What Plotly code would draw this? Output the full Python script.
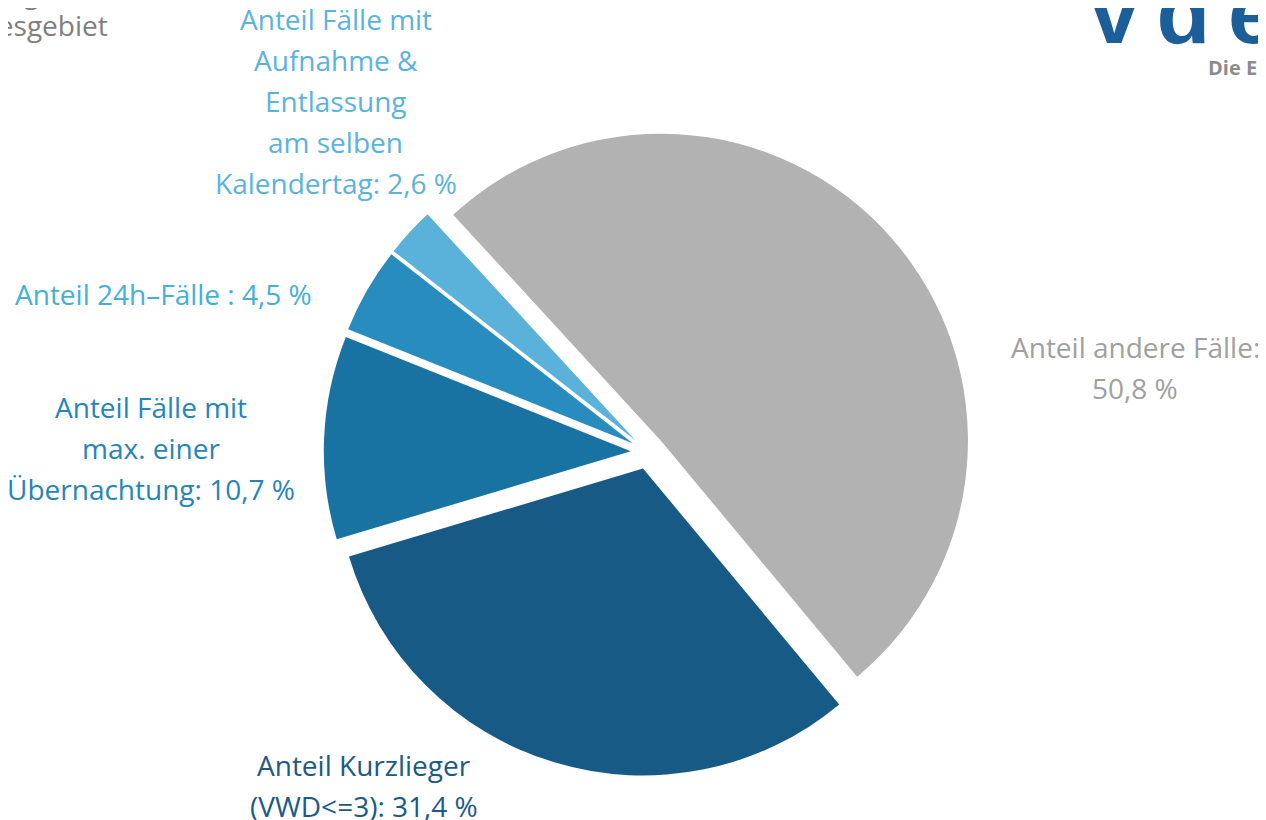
import plotly.graph_objects as go

# data
labels = [
    "Anteil andere Fälle:\n50,8 %",
    "Anteil Kurzlieger\n(VWD<=3): 31,4 %",
    "Anteil Fälle mit\nmax. einer\nÜbernachtung: 10,7 %",
    "Anteil 24h–Fälle : 4,5 %",
    "Anteil Fälle mit\nAufnahme &\nEntlassung\nam selben\nKalendertag: 2,6 %",
]
values = [50.8, 31.4, 10.7, 4.5, 2.6]
slice_colors = ["#b2b2b2", "#175a86", "#1873a3", "#298cbf", "#5ab2db"]
text_colors = ["#a0a0a0", "#1b5a86", "#2585bb", "#45b0d4", "#5ab3dc"]

# where the first line of each label sits (screen pixels)
label_pos = [(1135, 347), (364, 765), (151, 407), (163, 294), (336, 19)]

W, H = 1266, 820
OX, OY = 8, 8  # page body margin
LINE = 41
FONT = "Open Sans"


def px(x, y):
    return (x - OX) / W, 1 - (y - OY) / H


fig = go.Figure()

# pie centre / radius (screen pixels)
cx, cy, r, pull = 648, 452, 307, 0.056
half = r * (1 + pull)
x0, y0 = px(cx - half - 40, cy - half)
x1, y1 = px(cx + half + 40, cy + half)
fig.add_trace(
    go.Pie(
        labels=[l.replace("\n", " ") for l in labels],
        values=values,
        marker=dict(colors=slice_colors, line=dict(width=0)),
        sort=False,
        direction="clockwise",
        rotation=317.4,
        pull=pull,
        textinfo="none",
        hoverinfo="label",
        showlegend=False,
        domain=dict(x=[x0, x1], y=[y1, y0]),
    )
)

annotations = []
for lab, (lx, ly), col in zip(labels, label_pos, text_colors):
    for i, line in enumerate(lab.split("\n")):
        x, y = px(lx, ly + i * LINE)
        annotations.append(
            dict(
                x=x, y=y, xref="paper", yref="paper", text=line.replace("<", "&lt;"),
                showarrow=False, xanchor="center", yanchor="middle",
                font=dict(family=FONT, size=28, color=col),
            )
        )

# cropped title, top left
for txt, (tx, ty) in [("Anteil Kurzliegerfälle", (123, -8)), ("im Bundesgebiet", (110, 25))]:
    x, y = px(tx, ty)
    annotations.append(
        dict(x=x, y=y, xref="paper", yref="paper", text=txt, showarrow=False,
             xanchor="right", yanchor="middle",
             font=dict(family=FONT, size=28, color="#7f7f7f"))
    )

# cropped logo, top right
x, y = px(1088, 12)
annotations.append(
    dict(x=x, y=y, xref="paper", yref="paper", text="<b>v\u2009d\u2009e\u2009k</b>", showarrow=False,
         xanchor="left", yanchor="middle",
         font=dict(family="Liberation Sans", size=88, color="#1c5e98"))
)
x, y = px(1206, 68)
annotations.append(
    dict(x=x, y=y, xref="paper", yref="paper", text="<b>Die Ersatzkassen</b>", showarrow=False,
         xanchor="left", yanchor="middle",
         font=dict(family=FONT, size=20, color="#8c8c8c"))
)

fig.update_layout(
    width=W,
    height=H,
    margin=dict(l=0, r=0, t=0, b=0),
    paper_bgcolor="white",
    plot_bgcolor="white",
    annotations=annotations,
)

fig.write_html("out.html")
